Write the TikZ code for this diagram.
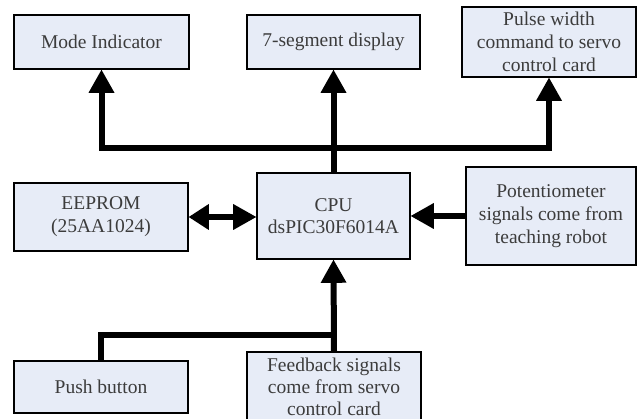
\documentclass[tikz,border=0pt]{standalone}
\usepackage{fontspec}
\setmainfont{Liberation Serif}
\usetikzlibrary{arrows.meta}
\definecolor{boxfill}{RGB}{231,236,247}
\definecolor{txtgray}{RGB}{60,60,60}
\tikzset{
  Tri/.tip={Triangle[length=23pt,width=26pt,line width=0pt]},
  blk/.style={draw=black, line width=1.6pt, fill=boxfill, inner sep=0pt,
    align=center, text=txtgray, font=\fontsize{19.5}{23}\selectfont},
  conn/.style={draw=black, line width=6pt, line join=miter, line cap=butt},
}
\begin{document}
\begin{tikzpicture}[x=1pt,y=-1pt]
\useasboundingbox (0,0) rectangle (638,419);
\clip (0,0) rectangle (638,419);
\fill[white] (0,0) rectangle (638,419);

\node[blk, minimum width=175pt, minimum height=54pt] (mode) at (101.5,42) {Mode Indicator};
\node[blk, minimum width=173pt, minimum height=54pt] (seg) at (333.5,42) {7-segment display};
\node[blk, minimum width=174pt, minimum height=70pt] (pulse) at (549,42) {Pulse width\\command to servo\\control card};
\node[blk, minimum width=174pt, minimum height=68pt] (eeprom) at (101,217) {EEPROM\\(25AA1024)};
\node[blk, minimum width=153pt, minimum height=86pt, font=\fontsize{19.5}{21.5}\selectfont] (cpu) at (333.5,216) {CPU\\dsPIC30F6014A};
\node[blk, minimum width=170pt, minimum height=98pt] (pot) at (551,216) {Potentiometer\\signals come from\\teaching robot};
\node[blk, minimum width=174pt, minimum height=52pt] (push) at (101,387) {Push button};
\node[blk, minimum width=174pt, minimum height=74pt, font=\fontsize{19.5}{22}\selectfont] (fb) at (334,389) {\raisebox{4pt}{\begin{tabular}{@{}c@{}}Feedback signals\\come from servo\\control card\end{tabular}}};

\coordinate (bus) at (333.5,148);
\coordinate (branch) at (333.5,335);

\draw[conn] (cpu.north) -- (bus);
\draw[conn,-{Tri}] (bus) -- (seg.south);
\draw[conn,-{Tri}] (bus) -| (mode.south);
\draw[conn,-{Tri}] (bus) -| (pulse.south);

\draw[conn,{Tri[length=20pt]}-{Tri}] (eeprom.east) -- (eeprom.east -| cpu.west);
\draw[conn,-{Tri}] (pot.west) -- (pot.west -| cpu.east);

\draw[conn,-{Tri}] (fb.north) -- (cpu.south);
\draw[conn] (branch) -| (push.north);
\end{tikzpicture}
\end{document}
